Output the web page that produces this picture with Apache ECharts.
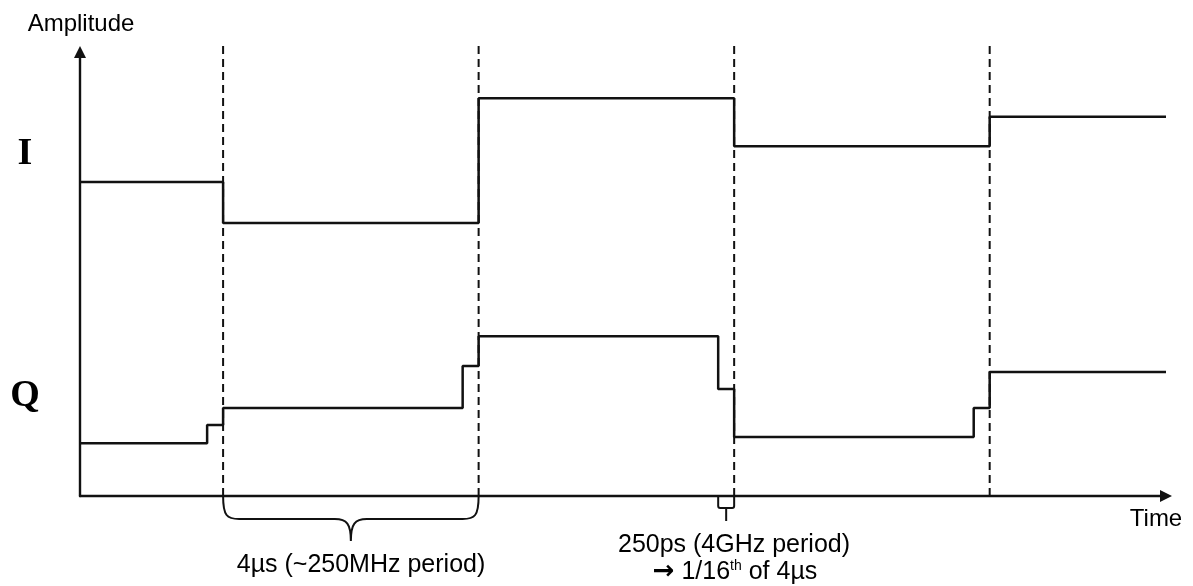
<!DOCTYPE html>
<html>
<head>
<meta charset="utf-8">
<script src="https://cdn.jsdelivr.net/npm/echarts@6/dist/echarts.min.js"></script>
<style>
  html, body { margin: 0; padding: 0; background: #ffffff; }
  #chart { width: 1193px; height: 586px; }
</style>
</head>
<body>
<div id="chart"></div>
<script>
// Symbol boundaries in µs: one symbol lasts 4 µs
const symbolEdges = [2.24, 6.24, 10.24, 14.24];
const timeEnd = 17;
// One 4 GHz DAC sample (250 ps), shown as 1/16 of a 4 µs symbol
const sampleWidth = 0.25;
// I channel: level held during each symbol
const iLevels = [7.07, 6.15, 8.96, 7.88, 8.54];
// Q channel: level held during each symbol
const qLevels = [1.19, 1.98, 3.60, 1.33, 2.79];
// Q channel: one-sample intermediate level just before each symbol edge
const qStepLevels = [1.60, 2.93, 2.41, 1.98];
const ampMax = 10;

const INK = '#111111';
const SANS = '"Liberation Sans", Arial, sans-serif';
const SERIF = '"Liberation Serif", "Times New Roman", serif';

// I waveform: plain steps at every symbol edge
const iPoints = [[0, iLevels[0]]];
symbolEdges.forEach((t, k) => {
  iPoints.push([t, iLevels[k]], [t, iLevels[k + 1]]);
});
iPoints.push([timeEnd, iLevels[iLevels.length - 1]]);

// Q waveform: one intermediate sample before each symbol edge
const qPoints = [[0, qLevels[0]]];
symbolEdges.forEach((t, k) => {
  const t0 = t - sampleWidth;
  qPoints.push([t0, qLevels[k]], [t0, qStepLevels[k]], [t, qStepLevels[k]], [t, qLevels[k + 1]]);
});
qPoints.push([timeEnd, qLevels[qLevels.length - 1]]);

// Braces under the time axis: [start, end, kind]
const braces = [
  [symbolEdges[0], symbolEdges[1], 0],
  [symbolEdges[2] - sampleWidth, symbolEdges[2], 1]
];

const chart = echarts.init(document.getElementById('chart'), null, { renderer: 'canvas' });

const axisCommon = {
  type: 'value',
  axisLine: {
    show: true,
    symbol: ['none', 'triangle'],
    symbolSize: [12, 12],
    lineStyle: { color: INK, width: 2.4 }
  },
  axisTick: { show: false },
  axisLabel: { show: false },
  splitLine: { show: false }
};

chart.setOption({
  animation: false,
  backgroundColor: '#ffffff',
  grid: { left: 80, right: 27, top: 52, bottom: 90 },
  xAxis: Object.assign({}, axisCommon, { min: 0, max: timeEnd }),
  yAxis: Object.assign({}, axisCommon, { min: 0, max: ampMax }),
  series: [
    {
      name: 'edges',
      type: 'custom',
      clip: false,
      silent: true,
      data: symbolEdges.map(t => [t, 0]),
      renderItem: function (params, api) {
        const base = api.coord([api.value(0), 0]);
        const top = api.coord([api.value(0), ampMax]);
        return {
          type: 'line',
          shape: { x1: base[0], y1: base[1], x2: top[0], y2: top[1] - 6 },
          style: { stroke: INK, lineWidth: 2, lineDash: [8, 5] }
        };
      }
    },
    {
      name: 'I',
      type: 'line',
      data: iPoints,
      showSymbol: false,
      clip: false,
      lineStyle: { color: INK, width: 2.5 }
    },
    {
      name: 'Q',
      type: 'line',
      data: qPoints,
      showSymbol: false,
      clip: false,
      lineStyle: { color: INK, width: 2.5 }
    },
    {
      name: 'braces',
      type: 'custom',
      clip: false,
      silent: true,
      data: braces,
      renderItem: function (params, api) {
        const a = api.coord([api.value(0), 0]);
        const b = api.coord([api.value(1), 0]);
        const kind = api.value(2);
        const x1 = a[0], x2 = b[0], y0 = a[1];
        const xm = (x1 + x2) / 2;
        let d;
        if (kind === 0) {
          const h = 23, tip = 45, r = 16;
          d = 'M' + x1 + ' ' + y0 +
            ' C' + x1 + ' ' + (y0 + h - 3) + ' ' + (x1 + 4) + ' ' + (y0 + h) + ' ' + (x1 + r) + ' ' + (y0 + h) +
            ' L' + (xm - r) + ' ' + (y0 + h) +
            ' C' + (xm - 4) + ' ' + (y0 + h) + ' ' + xm + ' ' + (y0 + h + 5) + ' ' + xm + ' ' + (y0 + tip) +
            ' C' + xm + ' ' + (y0 + h + 5) + ' ' + (xm + 4) + ' ' + (y0 + h) + ' ' + (xm + r) + ' ' + (y0 + h) +
            ' L' + (x2 - r) + ' ' + (y0 + h) +
            ' C' + (x2 - 4) + ' ' + (y0 + h) + ' ' + x2 + ' ' + (y0 + h - 3) + ' ' + x2 + ' ' + y0;
        } else {
          const h = 12, tip = 25;
          d = 'M' + x1 + ' ' + y0 +
            ' L' + x1 + ' ' + (y0 + h - 2) +
            ' Q' + x1 + ' ' + (y0 + h) + ' ' + (x1 + 2) + ' ' + (y0 + h) +
            ' L' + (x2 - 2) + ' ' + (y0 + h) +
            ' Q' + x2 + ' ' + (y0 + h) + ' ' + x2 + ' ' + (y0 + h - 2) +
            ' L' + x2 + ' ' + y0 +
            ' M' + xm + ' ' + (y0 + h) + ' L' + xm + ' ' + (y0 + tip);
        }
        return {
          type: 'path',
          shape: { pathData: d },
          style: { stroke: INK, lineWidth: 2, fill: null }
        };
      }
    }
  ],
  graphic: [
    { type: 'text', x: 81, y: 24, style: { text: 'Amplitude', font: '24px ' + SANS, fill: '#000', align: 'center', verticalAlign: 'middle' } },
    { type: 'text', x: 1156, y: 519, style: { text: 'Time', font: '24px ' + SANS, fill: '#000', align: 'center', verticalAlign: 'middle' } },
    { type: 'text', x: 25, y: 154, style: { text: 'I', font: 'bold 38px ' + SERIF, fill: '#000', align: 'center', verticalAlign: 'middle' } },
    { type: 'text', x: 25, y: 396, style: { text: 'Q', font: 'bold 38px ' + SERIF, fill: '#000', align: 'center', verticalAlign: 'middle' } },
    { type: 'text', x: 361, y: 565, style: { text: '4µs (~250MHz period)', font: '25px ' + SANS, fill: '#000', align: 'center', verticalAlign: 'middle' } },
    { type: 'text', x: 734, y: 545, style: { text: '250ps (4GHz period)', font: '25px ' + SANS, fill: '#000', align: 'center', verticalAlign: 'middle' } },
    {
      type: 'text', x: 735, y: 572,
      style: {
        text: '{arr|→} 1/16{sup|th} of 4µs',
        font: '25px ' + SANS, fill: '#000', align: 'center', verticalAlign: 'middle',
        rich: {
          arr: { fontSize: 26, fontFamily: '"DejaVu Sans", sans-serif', fontWeight: 'bold' },
          sup: { fontSize: 14, fontFamily: SANS, verticalAlign: 'top', lineHeight: 14, padding: [0, 0, 10, 0] }
        }
      }
    }
  ]
});
</script>
</body>
</html>
